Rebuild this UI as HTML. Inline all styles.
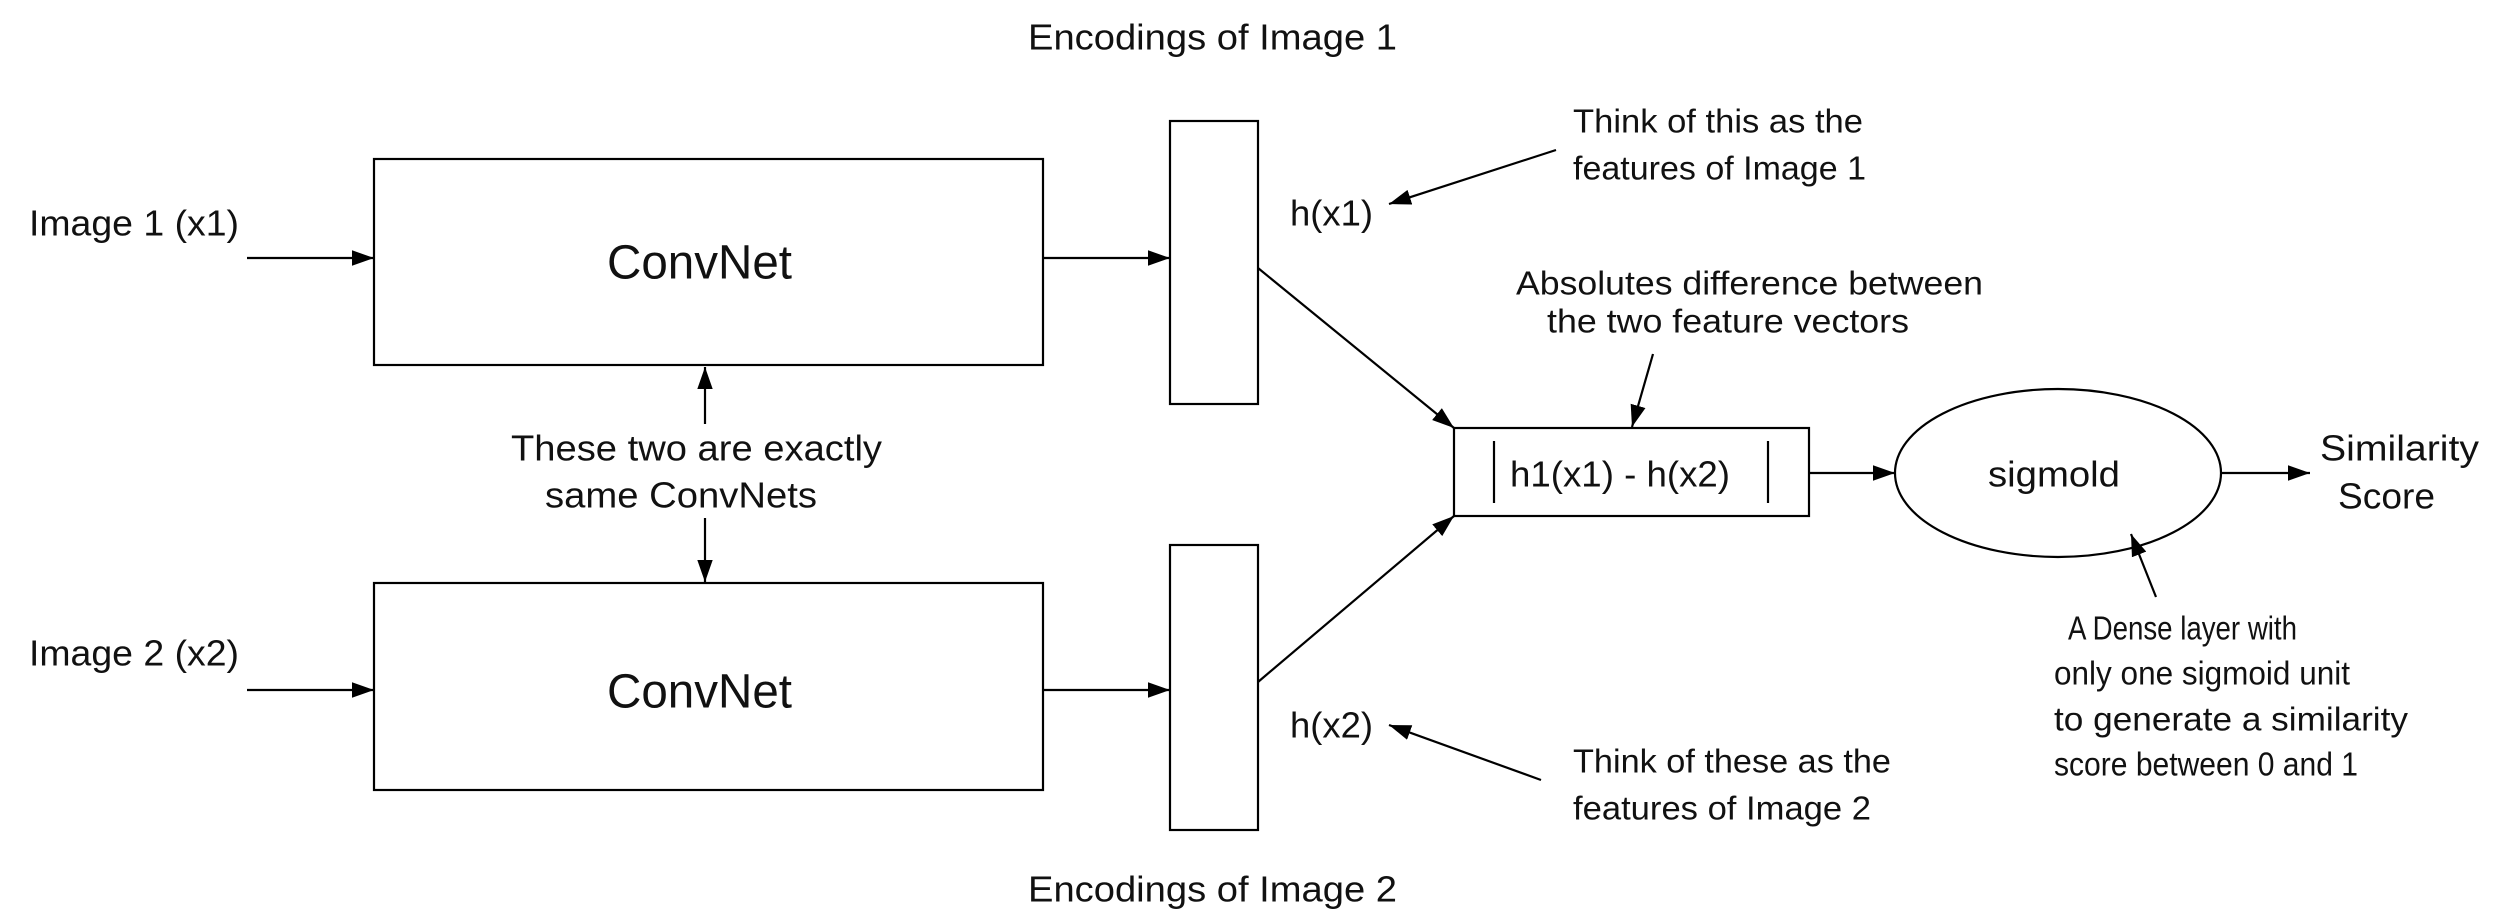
<!DOCTYPE html>
<html><head><meta charset="utf-8"><style>
html,body{margin:0;padding:0;background:#fff;}
svg{display:block;}
text{font-family:"Liberation Sans",sans-serif;fill:#111;dominant-baseline:central;}
</style></head><body>
<svg width="2497" height="921" viewBox="0 0 2497 921" xmlns="http://www.w3.org/2000/svg">
<defs>
<marker id="b" viewBox="0 0 10 10" refX="10" refY="5" markerWidth="22" markerHeight="22" markerUnits="userSpaceOnUse" orient="auto">
<path d="M0,1.5 L10,5 L0,8.5 z" fill="#000"/></marker>
</defs>
<g fill="none" stroke="#000" stroke-width="2.2">
<rect x="374" y="159" width="669" height="206"/>
<rect x="374" y="583" width="669" height="207"/>
<rect x="1170" y="121" width="88" height="283"/>
<rect x="1170" y="545" width="88" height="285"/>
<rect x="1454" y="428" width="355" height="88"/>
<line x1="1494" y1="441" x2="1494" y2="503"/>
<line x1="1768" y1="441" x2="1768" y2="503"/>
<ellipse cx="2058" cy="473" rx="163" ry="84"/>
<line x1="247" y1="258" x2="374" y2="258" marker-end="url(#b)"/>
<line x1="247" y1="690" x2="374" y2="690" marker-end="url(#b)"/>
<line x1="1043" y1="258" x2="1170" y2="258" marker-end="url(#b)"/>
<line x1="1043" y1="690" x2="1170" y2="690" marker-end="url(#b)"/>
<line x1="705" y1="424" x2="705" y2="367" marker-end="url(#b)"/>
<line x1="705" y1="518" x2="705" y2="582" marker-end="url(#b)"/>
<line x1="1258" y1="268" x2="1454" y2="428" marker-end="url(#b)"/>
<line x1="1258" y1="682" x2="1454" y2="516" marker-end="url(#b)"/>
<line x1="1809" y1="473" x2="1895" y2="473" marker-end="url(#b)"/>
<line x1="2222" y1="473" x2="2310" y2="473" marker-end="url(#b)"/>
<line x1="1556" y1="150" x2="1389" y2="204" marker-end="url(#b)"/>
<line x1="1541" y1="780" x2="1389" y2="725" marker-end="url(#b)"/>
<line x1="1653" y1="354" x2="1632" y2="427" marker-end="url(#b)"/>
<line x1="2156" y1="597" x2="2131" y2="534" marker-end="url(#b)"/>
</g>
<g font-size="36">
<text x="29" y="223" textLength="210" lengthAdjust="spacingAndGlyphs">Image 1 (x1)</text>
<text x="29" y="653" textLength="210" lengthAdjust="spacingAndGlyphs">Image 2 (x2)</text>
<text x="607" y="263" font-size="48" textLength="185" lengthAdjust="spacingAndGlyphs">ConvNet</text>
<text x="607" y="692" font-size="48" textLength="185" lengthAdjust="spacingAndGlyphs">ConvNet</text>
<text x="511" y="448" textLength="371" lengthAdjust="spacingAndGlyphs">These two are exactly</text>
<text x="545" y="495" textLength="272" lengthAdjust="spacingAndGlyphs">same ConvNets</text>
<text x="1028" y="37" textLength="369" lengthAdjust="spacingAndGlyphs">Encodings of Image 1</text>
<text x="1028" y="889" textLength="369" lengthAdjust="spacingAndGlyphs">Encodings of Image 2</text>
<text x="1290" y="213" textLength="83" lengthAdjust="spacingAndGlyphs">h(x1)</text>
<text x="1290" y="725" textLength="83" lengthAdjust="spacingAndGlyphs">h(x2)</text>
<text x="1573" y="121" font-size="33" textLength="290" lengthAdjust="spacingAndGlyphs">Think of this as the</text>
<text x="1573" y="168" font-size="33" textLength="293" lengthAdjust="spacingAndGlyphs">features of Image 1</text>
<text x="1573" y="761" font-size="33" textLength="318" lengthAdjust="spacingAndGlyphs">Think of these as the</text>
<text x="1573" y="808" font-size="33" textLength="298" lengthAdjust="spacingAndGlyphs">features of Image 2</text>
<text x="1516" y="283" font-size="33" textLength="467" lengthAdjust="spacingAndGlyphs">Absolutes difference between</text>
<text x="1547" y="321" font-size="33" textLength="362" lengthAdjust="spacingAndGlyphs">the two feature vectors</text>
<text x="1510" y="474" textLength="220" lengthAdjust="spacingAndGlyphs">h1(x1) - h(x2)</text>
<text x="1988" y="474" textLength="132" lengthAdjust="spacingAndGlyphs">sigmold</text>
<text x="2320" y="448" textLength="159" lengthAdjust="spacingAndGlyphs">Similarity</text>
<text x="2338" y="496" textLength="97" lengthAdjust="spacingAndGlyphs">Score</text>
<text x="2068" y="628" font-size="33" textLength="229" lengthAdjust="spacingAndGlyphs">A Dense layer with</text>
<text x="2054" y="673" font-size="33" textLength="296" lengthAdjust="spacingAndGlyphs">only one sigmoid unit</text>
<text x="2054" y="719" font-size="33" textLength="354" lengthAdjust="spacingAndGlyphs">to generate a similarity</text>
<text x="2054" y="764" font-size="33" textLength="304" lengthAdjust="spacingAndGlyphs">score between 0 and 1</text>
</g>
</svg>
</body></html>
